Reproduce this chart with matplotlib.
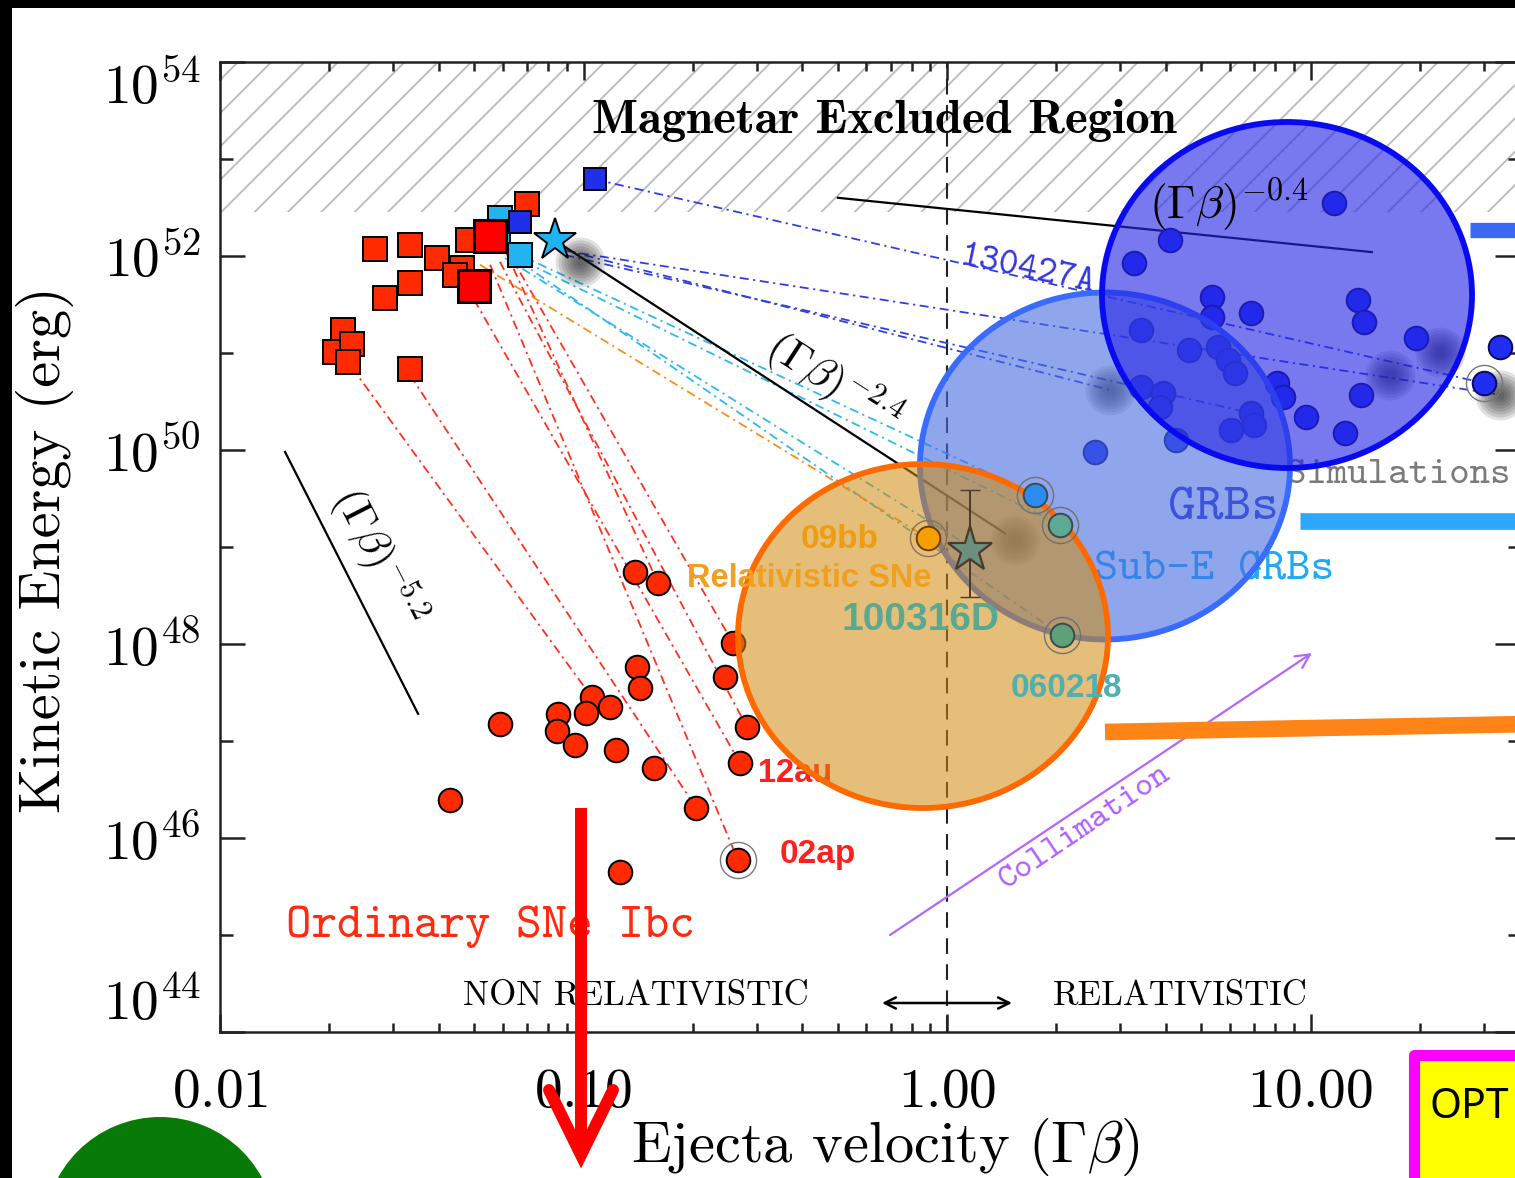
import numpy as np
import matplotlib.pyplot as plt
from matplotlib.patches import Ellipse, Rectangle, FancyArrowPatch
from matplotlib.lines import Line2D

W, H = 1515, 1178
plt.rcParams['mathtext.fontset'] = 'cm'
plt.rcParams['hatch.linewidth'] = 1.3
plt.rcParams['axes.linewidth'] = 1.8

# values: log10(Gamma*beta) and log10(E_k / erg)
red_sq_logv = [-1.574, -1.477, -1.403, -1.546, -1.477, -1.334, -1.354, -1.318, -1.155,
               -1.662, -1.684, -1.637, -1.648, -1.477]
red_sq_logE = [52.07, 52.11, 51.98, 51.57, 51.72, 51.88, 51.80, 52.16, 52.54,
               51.24, 51.01, 51.09, 50.91, 50.84]
big_sq_logv = [-1.301, -1.257]
big_sq_logE = [51.69, 52.21]
cyan_sq_logv = [-1.230, -1.235, -1.175]
cyan_sq_logE = [52.39, 52.16, 52.01]
blue_sq_logv = [-1.175, -0.968]
blue_sq_logE = [52.35, 52.79]
star_logv = [-1.078]
star_logE = [52.16]

# ordinary SNe Ibc
sn_logv = [-0.858, -0.795, -0.589, -0.611, -0.853, -0.845, -0.977, -0.927, -0.993, -1.070,
           -1.230, -1.073, -1.023, -0.911, -0.806, -0.550, -0.569, -0.690, -1.367, -0.900, -0.575]
sn_logE = [48.74, 48.63, 48.01, 47.66, 47.76, 47.55, 47.45, 47.35, 47.29, 47.28,
           47.18, 47.10, 46.96, 46.91, 46.72, 47.14, 46.77, 46.31, 46.39, 45.65, 45.77]

# GRBs
grb_logv = [1.065, 0.613, 0.514, 0.729, 0.836, 1.131, 1.147, 0.729, 0.534, 0.666,
            0.746, 0.773, 0.792, 1.290, 1.521, 1.477, 0.534, 0.594, 0.586, 0.836,
            0.908, 0.924, 0.988, 1.139, 1.095, 0.781, 0.630, 0.407, 0.845]
grb_logE = [52.55, 52.16, 51.93, 51.58, 51.41, 51.55, 51.32, 51.37, 51.24, 51.03,
            51.06, 50.93, 50.79, 51.15, 51.06, 50.69, 50.65, 50.59, 50.44, 50.38,
            50.69, 50.55, 50.34, 50.57, 50.18, 50.21, 50.10, 49.98, 50.26]

# sub-energetic GRBs, relativistic SN, 100316D
sube_logv = [0.242, 0.311, 0.316]
sube_logE = [49.54, 49.23, 48.09]
sube_colors = ['#2a8cf0', '#5ea896', '#5ea07a']
bb09_logv, bb09_logE = -0.052, 49.09
d100316_logv, d100316_logE = 0.063, 48.97
d100316_err = (48.48, 49.59)

# simulations
sim_logv = [-1.010, 0.448, 1.219, 1.356, 1.521, 0.187]
sim_logE = [51.94, 50.62, 50.77, 51.01, 50.57, 49.07]

# dash-dot tracks (start -> end)
red_trk = [(-1.637, 50.85, -0.977, 47.45), (-1.477, 50.77, -0.690, 46.31),
           (-1.301, 51.55, -0.569, 46.77), (-1.257, 51.91, -0.575, 45.77),
           (-1.230, 51.94, -0.550, 47.14), (-1.202, 52.01, -0.589, 48.01),
           (-1.216, 52.06, -0.795, 48.63)]
orange_trk = [(-1.285, 51.91, -0.052, 49.09)]
cyan_trk = [(-1.175, 52.01, 0.242, 49.54), (-1.161, 51.94, 0.311, 49.23),
            (-1.175, 51.94, 0.316, 48.09), (-1.216, 51.98, 0.069, 48.99)]
blue_trk = [(-0.968, 52.79, 1.477, 50.69), (-1.051, 52.06, 0.448, 50.62),
            (-1.051, 52.01, 0.836, 50.38), (-1.065, 52.06, 1.521, 50.57)]

# power-law guide lines
pl_04 = (-0.300, 52.60, 1.169, 52.04)
pl_24 = (-1.078, 52.16, 0.160, 49.14)
pl_52 = (-1.821, 49.98, -1.455, 47.28)

magnetar_logE = 52.45
x_ticks = [0.01, 0.1, 1.0, 10.0]
x_ticklabels = ['$0.01$', '$0.10$', '$1.00$', '$10.00$']
y_major_exp = [44, 46, 48, 50, 52, 54]
y_minor_exp = [45, 47, 49, 51, 53]


def pw(a):
    return 10 ** np.asarray(a, dtype=float)


def P(x, y):
    # pixel position -> figure fraction
    return (x / W, 1 - y / H)


fig = plt.figure(figsize=(W / 100, H / 100), dpi=100, facecolor='black')
fig.add_artist(Rectangle((12 / W, 0), 1, 1 - 8 / H, transform=fig.transFigure,
                         facecolor='white', edgecolor='none', zorder=-5))
ax = fig.add_axes([220 / W, 1 - 1032 / H, 1300 / W, 970 / H])
ax.set_xscale('log')
ax.set_yscale('log')
T = fig.transFigure

ax.axhspan(10 ** magnetar_logE, 1e54, facecolor='none', edgecolor='#bababa',
           hatch='/', lw=0, zorder=1)
ax.axvline(1.0, color='#222222', lw=1.5, ls=(0, (7.5, 5)), zorder=2)

ddot = (0, (5, 2.5, 1.2, 2.5))
for trk, col in [(red_trk, '#ff3020'), (orange_trk, '#ff8c1a'),
                 (cyan_trk, '#30b8f0'), (blue_trk, '#3040e0')]:
    for x0, y0, x1, y1 in trk:
        ax.plot(pw([x0, x1]), pw([y0, y1]), color=col, lw=1.3, ls=ddot, zorder=3)

for x0, y0, x1, y1 in [pl_04, pl_24, pl_52]:
    ax.plot(pw([x0, x1]), pw([y0, y1]), color='black', lw=1.6, zorder=3)

for lv, le in zip(sim_logv, sim_logE):
    for s in np.linspace(36, 6, 8):
        ax.scatter(10 ** lv, 10 ** le, s=s ** 2, color='#1e1e1e', alpha=0.13,
                   lw=0, zorder=3.5)

mk = dict(markeredgecolor='black', markeredgewidth=1.4, linestyle='none', zorder=4)
ax.plot(pw(red_sq_logv), pw(red_sq_logE), marker='s', ms=17, color='#ff2a00', **mk)
ax.plot(pw(cyan_sq_logv), pw(cyan_sq_logE), marker='s', ms=17, color='#22b4f0', **mk)
ax.plot(pw(blue_sq_logv), pw(blue_sq_logE), marker='s', ms=16, color='#2030e8', **mk)
ax.plot(pw(big_sq_logv), pw(big_sq_logE), marker='s', ms=23, color='#ff0000',
        markeredgecolor='black', markeredgewidth=2.2, linestyle='none', zorder=4)
ax.plot(pw(star_logv), pw(star_logE), marker='*', ms=32, color='#1fb4f0', **mk)

ax.plot(pw(sn_logv), pw(sn_logE), marker='o', ms=17, color='#ff2a00', **mk)
ax.plot(pw(sn_logv[-1]), pw(sn_logE[-1]), marker='o', ms=26, mfc='none',
        mec='#777777', mew=1.0, zorder=4)
ax.plot(pw(grb_logv), pw(grb_logE), marker='o', ms=17, color='#1f2ef2',
        markeredgecolor='#0a0a60', markeredgewidth=1.4, linestyle='none', zorder=4)
ax.plot(pw(grb_logv[15]), pw(grb_logE[15]), marker='o', ms=26, mfc='none',
        mec='#777777', mew=1.0, zorder=4)

# highlight circles
ell = dict(transform=T, clip_on=False, lw=4.2)
ax.add_patch(Ellipse(P(1105, 466), 370 / W, 347 / H, facecolor=(0.28, 0.42, 0.88, 0.6),
                     edgecolor='#3a6bff', zorder=5.0, **ell))
ax.add_patch(Ellipse(P(1287, 295), 370 / W, 346 / H, facecolor=(0.15, 0.15, 0.9, 0.62),
                     edgecolor='#0a0af0', zorder=5.1, **ell))
ax.add_patch(Ellipse(P(923, 636), 370 / W, 344 / H, facecolor=(0.82, 0.55, 0.05, 0.55),
                     edgecolor='#ff6a00', zorder=5.2, **ell))

# points drawn above the highlights
ax.plot(pw(bb09_logv), pw(bb09_logE), marker='o', ms=17, color='#f5a000',
        markeredgecolor='#6a4000', markeredgewidth=1.4, zorder=6)
ax.plot(pw(bb09_logv), pw(bb09_logE), marker='o', ms=26, mfc='none',
        mec='#8a7050', mew=1.0, zorder=6)
for lv, le, c in zip(sube_logv, sube_logE, sube_colors):
    ax.plot(10 ** lv, 10 ** le, marker='o', ms=17, color=c, markeredgecolor='#3a4a50',
            markeredgewidth=1.4, zorder=6)
    ax.plot(10 ** lv, 10 ** le, marker='o', ms=26, mfc='none', mec='#707070',
            mew=1.0, zorder=6)
ax.errorbar(10 ** d100316_logv, 10 ** d100316_logE,
            yerr=[[10 ** d100316_logE - 10 ** d100316_err[0]],
                  [10 ** d100316_err[1] - 10 ** d100316_logE]],
            fmt='none', ecolor='#4a3a2a', elinewidth=1.4, capsize=7, zorder=6)
ax.plot(10 ** d100316_logv, 10 ** d100316_logE, marker='*', ms=34, color='#6c9080',
        markeredgecolor='#4a3a2a', markeredgewidth=1.6, zorder=6.1)

ax.set_xlim(0.01, 10 ** (1300 / 363.5 - 2))
ax.set_ylim(1e44, 1e54)
ax.set_xticks(x_ticks)
ax.set_xticklabels(x_ticklabels)
ax.set_yticks([10.0 ** e for e in y_major_exp])
ax.set_yticklabels(['$10^{%d}$' % e for e in y_major_exp])
ax.set_yticks([10.0 ** e for e in y_minor_exp], minor=True)
ax.yaxis.set_minor_formatter(plt.NullFormatter())
ax.xaxis.set_minor_formatter(plt.NullFormatter())
ax.tick_params(which='both', direction='in', top=True, right=True, width=1.8,
               labelsize=40, color='#222222')
ax.tick_params(axis='x', which='major', length=13, pad=24)
ax.tick_params(axis='x', which='minor', length=6.5)
ax.tick_params(axis='y', which='major', length=18, pad=14)
ax.tick_params(axis='y', which='minor', length=9)
ylabels = ax.get_yticklabels()
ylabels[0].set_va('bottom')
ylabels[-1].set_va('top')
for sp in ax.spines.values():
    sp.set_color('#222222')

# text on the chart
tx = dict(transform=T, clip_on=False)
ax.text(*P(884, 133), 'Magnetar Excluded Region', family='cmb10', fontsize=35,
        ha='center', va='baseline', zorder=6, **tx)
ax.text(*P(1229, 205), r'$(\Gamma\beta)^{-0.4}$', fontsize=33, ha='center',
        va='center', zorder=6, **tx)
ax.text(*P(833, 383), r'$(\Gamma\beta)^{-2.4}$', fontsize=31, rotation=-33,
        ha='center', va='center', rotation_mode='anchor', zorder=6, **tx)
ax.text(*P(378, 556), r'$(\Gamma\beta)^{-5.2}$', fontsize=31, rotation=-63,
        ha='center', va='center', rotation_mode='anchor', zorder=6, **tx)
ax.text(*P(1027, 271), '130427A', family='cmtt10', fontsize=27, color='#3535e0',
        rotation=-12, ha='center', va='center', rotation_mode='anchor', zorder=4.5, **tx)
ax.text(*P(1398, 483), 'Simulations', family='cmtt10', fontsize=28, color='#7a7a7a',
        ha='center', va='baseline', zorder=4.5, **tx)
ax.text(*P(1223, 520), 'GRBs', family='cmtt10', fontsize=38, color='#3030d8',
        ha='center', va='baseline', zorder=4.6, **tx)
ax.text(*P(1214, 580), 'Sub-E GRBs', family='cmtt10', fontsize=33, color='#20aaf2',
        ha='center', va='baseline', zorder=4.6, **tx)
sans_b = dict(family='Liberation Sans', weight='bold')
ax.text(*P(840, 548), '09bb', fontsize=24, color='#ee9d10', ha='center',
        va='baseline', zorder=6, **sans_b, **tx)
ax.text(*P(809, 587), 'Relativistic SNe', fontsize=23.5, color='#f0a020', ha='center',
        va='baseline', zorder=6, **sans_b, **tx)
ax.text(*P(921, 630), '100316D', fontsize=28, color='#5aa890', ha='center',
        va='baseline', zorder=6, **sans_b, **tx)
ax.text(*P(1066, 697), '060218', fontsize=24, color='#4fb0b0', ha='center',
        va='baseline', zorder=6, **sans_b, **tx)
ax.text(*P(795, 782), '12au', fontsize=23.5, color='#ff2020', ha='center',
        va='baseline', zorder=4.5, **sans_b, **tx)
ax.text(*P(818, 863), '02ap', fontsize=24, color='#ff2020', ha='center',
        va='baseline', zorder=6, **sans_b, **tx)
ax.text(*P(490, 937), 'Ordinary SNe Ibc', family='cmtt10', fontsize=35, color='#ff2a10',
        ha='center', va='baseline', zorder=6, **tx)
ax.text(*P(636, 1005), 'NON RELATIVISTIC', family='cmr10', fontsize=25,
        ha='center', va='baseline', zorder=6, **tx)
ax.text(*P(1180, 1005), 'RELATIVISTIC', family='cmr10', fontsize=25,
        ha='center', va='baseline', zorder=6, **tx)
ax.text(*P(1085, 828), 'Collimation', family='cmtt10', fontsize=25, color='#b060ff',
        rotation=34, ha='center', va='center', rotation_mode='anchor', zorder=6, **tx)

fig.add_artist(FancyArrowPatch(P(882, 1003), P(1012, 1003), transform=T,
                               arrowstyle='<->,head_length=8,head_width=4',
                               mutation_scale=1, lw=1.8, color='black',
                               shrinkA=0, shrinkB=0))
fig.add_artist(FancyArrowPatch(P(890, 935), P(1312, 653), transform=T,
                               arrowstyle='->,head_length=10,head_width=5',
                               mutation_scale=1, lw=1.6, color='#b266ff',
                               shrinkA=0, shrinkB=0))

fig.text(*P(885, 1162), r'Ejecta velocity ($\Gamma\beta$)', family='cmr10', fontsize=42,
         ha='center', va='baseline')
fig.text(*P(45, 550), 'Kinetic Energy (erg)', family='cmr10', fontsize=42,
         rotation=90, ha='center', va='center')

# slide overlays
for xs, ys, lw, col in [((1105, 1530), (732, 724), 12, '#ff8418'),
                        ((1300, 1530), (521, 521), 12, '#2ea8ff'),
                        ((1470, 1530), (230, 230), 11, '#3a68f2')]:
    fig.add_artist(Line2D([xs[0] / W, xs[1] / W], [1 - ys[0] / H, 1 - ys[1] / H],
                          transform=T, lw=lw, color=col, solid_capstyle='butt'))
fig.add_artist(Line2D([581 / W, 581 / W], [1 - 808 / H, 1 - 1150 / H], transform=T,
                      lw=8.6, color='#ff0000', solid_capstyle='butt'))
fig.add_artist(Line2D([549 / W, 581 / W, 613 / W], [1 - 1090 / H, 1 - 1155 / H, 1 - 1090 / H],
                      transform=T, lw=8.6, color='#ff0000', solid_joinstyle='miter',
                      solid_capstyle='round'))
fig.add_artist(Ellipse(P(160, 1233), 232 / W, 232 / H, transform=T,
                       facecolor='#077a07', edgecolor='none'))
fig.add_artist(Rectangle((1414 / W, 1 - 1300 / H), 300 / W, 245 / H, transform=T,
                         facecolor='#ffff00', edgecolor='#ff00ff', lw=8,
                         joinstyle='round'))
fig.text(*P(1429, 1118), 'OPT', family='Noto Sans', fontsize=29.5, color='black',
         ha='left', va='baseline')

fig.savefig('out.png', dpi=100, facecolor=fig.get_facecolor())
